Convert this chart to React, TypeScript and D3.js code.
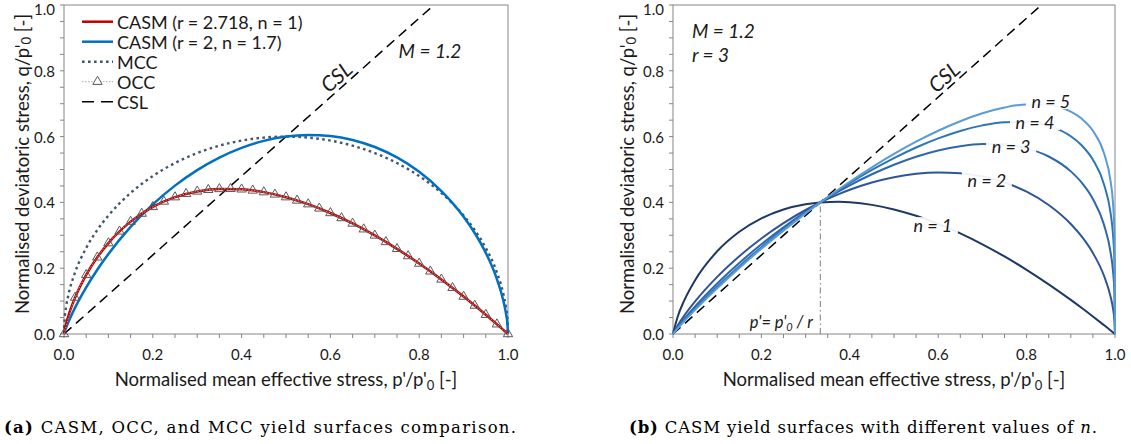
import React from "react";
import * as d3 from "d3";

// ---------------- DATA ----------------
// (a) comparison: normalised mean effective stress grid
const pGridA = [0, 0.001, 0.005, 0.01, 0.025, 0.05, 0.075, 0.1, 0.15, 0.2, 0.25, 0.3, 0.35, 0.4, 0.45, 0.5, 0.55, 0.6, 0.65, 0.7, 0.75, 0.8, 0.85, 0.9, 0.925, 0.95, 0.975, 0.99, 0.995, 0.999, 1];
const casmRedQ = [0, 0.0083, 0.0318, 0.0553, 0.1107, 0.1797, 0.2331, 0.2763, 0.3415, 0.3863, 0.4159, 0.4334, 0.4409, 0.4398, 0.4312, 0.4159, 0.3946, 0.3678, 0.336, 0.2996, 0.2589, 0.2142, 0.1658, 0.1138, 0.0865, 0.0585, 0.0296, 0.0119, 0.006, 0.0012, 0];
const casmBlueQ = [0, 0.0046, 0.0199, 0.0366, 0.0802, 0.1419, 0.1954, 0.2431, 0.3255, 0.3939, 0.451, 0.4982, 0.5362, 0.5656, 0.5869, 0.6, 0.605, 0.6017, 0.5897, 0.5683, 0.5366, 0.4929, 0.4346, 0.3566, 0.307, 0.2465, 0.167, 0.0985, 0.0657, 0.0256, 0];
const mccQ = [0, 0.0379, 0.0846, 0.1194, 0.1873, 0.2615, 0.3161, 0.36, 0.4285, 0.48, 0.5196, 0.5499, 0.5724, 0.5879, 0.597, 0.6, 0.597, 0.5879, 0.5724, 0.5499, 0.5196, 0.48, 0.4285, 0.36, 0.3161, 0.2615, 0.1873, 0.1194, 0.0846, 0.0379, 0];
const occP = [0, 0.025, 0.05, 0.075, 0.1, 0.125, 0.15, 0.175, 0.2, 0.225, 0.25, 0.275, 0.3, 0.325, 0.35, 0.375, 0.4, 0.425, 0.45, 0.475, 0.5, 0.525, 0.55, 0.575, 0.6, 0.625, 0.65, 0.675, 0.7, 0.725, 0.75, 0.775, 0.8, 0.825, 0.85, 0.875, 0.9, 0.925, 0.95, 0.975, 1];
const occQ = [0, 0.1107, 0.1797, 0.2331, 0.2763, 0.3119, 0.3415, 0.366, 0.3863, 0.4028, 0.4159, 0.426, 0.4334, 0.4383, 0.4409, 0.4414, 0.4398, 0.4364, 0.4312, 0.4243, 0.4159, 0.4059, 0.3946, 0.3818, 0.3678, 0.3525, 0.336, 0.3184, 0.2996, 0.2798, 0.2589, 0.237, 0.2142, 0.1904, 0.1658, 0.1402, 0.1138, 0.0865, 0.0585, 0.0296, 0];
const cslP = [0, 0.8333];
const cslQ = [0, 1];

// (b) CASM with r = 3 and different n
const pGridB = [0, 0.01, 0.025, 0.05, 0.1, 0.15, 0.2, 0.25, 0.3, 0.3333, 0.375, 0.4, 0.45, 0.5, 0.55, 0.6, 0.65, 0.7, 0.75, 0.8, 0.85, 0.9, 0.925, 0.95, 0.975, 0.99, 0.995, 0.999, 1];
const n1Q = [0, 0.0503, 0.1007, 0.1636, 0.2515, 0.3108, 0.3516, 0.3786, 0.3945, 0.4, 0.4018, 0.4003, 0.3925, 0.3786, 0.3592, 0.3348, 0.3059, 0.2727, 0.2357, 0.195, 0.1509, 0.1036, 0.0788, 0.0532, 0.027, 0.0109, 0.0054, 0.0011, 0];
const n2Q = [0, 0.0246, 0.055, 0.0991, 0.1737, 0.2365, 0.2905, 0.337, 0.3769, 0.4, 0.4252, 0.4384, 0.4604, 0.4766, 0.4869, 0.491, 0.4884, 0.4786, 0.4605, 0.4327, 0.3923, 0.3345, 0.2957, 0.2463, 0.1772, 0.1136, 0.0807, 0.0362, 0];
const n3Q = [0, 0.0193, 0.0449, 0.0838, 0.1536, 0.2159, 0.2726, 0.3242, 0.3712, 0.4, 0.4333, 0.4518, 0.4855, 0.5146, 0.5388, 0.5578, 0.5709, 0.5773, 0.5758, 0.5643, 0.5395, 0.4943, 0.4596, 0.4105, 0.3324, 0.2484, 0.198, 0.1162, 0];
const n4Q = [0, 0.0172, 0.0406, 0.0771, 0.1444, 0.2063, 0.264, 0.318, 0.3684, 0.4, 0.4374, 0.4587, 0.4986, 0.5347, 0.5669, 0.5946, 0.6172, 0.6341, 0.6438, 0.6445, 0.6326, 0.601, 0.5729, 0.5299, 0.4553, 0.3674, 0.3103, 0.2083, 0];
const n5Q = [0, 0.016, 0.0382, 0.0733, 0.1391, 0.2008, 0.2591, 0.3143, 0.3667, 0.4, 0.4399, 0.4629, 0.5066, 0.5472, 0.5844, 0.6178, 0.6468, 0.6708, 0.6884, 0.6979, 0.696, 0.6758, 0.6539, 0.6177, 0.5499, 0.4646, 0.4063, 0.2955, 0];
const nNames = ["n = 1", "n = 2", "n = 3", "n = 4", "n = 5"];
const pLimit = [0.3333, 0.3333];
const qLimit = [0, 0.4];

const tickValues = [0, 0.2, 0.4, 0.6, 0.8, 1.0];
const tickLabels = ["0.0", "0.2", "0.4", "0.6", "0.8", "1.0"];
const legendLabels = ["CASM (r = 2.718, n = 1)", "CASM (r = 2, n = 1.7)", "MCC", "OCC", "CSL"];

// ---------------- STYLE ----------------
const FONT = "Lato, 'Open Sans', sans-serif";
const SERIF = "'DejaVu Serif', 'Liberation Serif', serif";
const AXIS_COL = "#868686";
const TXT = "#1a1a1a";
const nColors = ["#1f3864", "#2f5597", "#2e67ad", "#2e75b6", "#5b9bd5"];
const nLabelPos = [
  { p: 0.588, q: 0.331 },
  { p: 0.71, q: 0.468 },
  { p: 0.765, q: 0.57 },
  { p: 0.819, q: 0.644 },
  { p: 0.855, q: 0.708 },
];

const Y_BOT = 334;
const Y_TOP = 5;

function zip(a: number[], b: number[]): [number, number][] {
  return a.map((v, i) => [v, b[i]] as [number, number]);
}

function Frame({ x, y, titleX }: { x: d3.ScaleLinear<number, number>; y: d3.ScaleLinear<number, number>; titleX: number }) {
  const [x0, x1] = x.range();
  const minor = x.ticks(20);
  return (
    <g>
      <rect x={x0} y={Y_TOP} width={x1 - x0} height={Y_BOT - Y_TOP} fill="none" stroke={AXIS_COL} strokeWidth={1} />
      {minor.map((t, i) => (
        <line key={"xt" + i} x1={x(t)} x2={x(t)} y1={Y_BOT} y2={Y_BOT + 4} stroke={AXIS_COL} />
      ))}
      {minor.map((t, i) => (
        <line key={"yt" + i} x1={x0 - 4} x2={x0} y1={y(t)} y2={y(t)} stroke={AXIS_COL} />
      ))}
      {tickValues.map((t, i) => (
        <text key={"xl" + i} x={x(t)} y={Y_BOT + 20} fontSize={15} fontFamily={FONT} fill={TXT} textAnchor="middle" dominantBaseline="central">
          {tickLabels[i]}
        </text>
      ))}
      {tickValues.map((t, i) => (
        <text key={"yl" + i} x={x0 - 9} y={Math.max(y(t), 9)} fontSize={15} fontFamily={FONT} fill={TXT} textAnchor="end" dominantBaseline="central">
          {tickLabels[i]}
        </text>
      ))}
      <text x={(x0 + x1) / 2} y={386} fontSize={18.5} fontFamily={FONT} fill={TXT} textAnchor="middle">
        Normalised mean effective stress, p'/p'<tspan fontSize={13} dy={4}>0</tspan>
        <tspan dy={-4}>{"  [-]"}</tspan>
      </text>
      <text transform={`translate(${titleX},164) rotate(-90)`} fontSize={18.5} fontFamily={FONT} fill={TXT} textAnchor="middle" dominantBaseline="central">
        Normalised deviatoric stress, q/p'<tspan fontSize={13} dy={4}>0</tspan>
        <tspan dy={-4}> [-]</tspan>
      </text>
    </g>
  );
}

function CslLabel({ x, y }: { x: d3.ScaleLinear<number, number>; y: d3.ScaleLinear<number, number> }) {
  const dx = x(cslP[1]) - x(cslP[0]);
  const dy = y(cslQ[0]) - y(cslQ[1]);
  const th = Math.atan2(dy, dx);
  const pp = 0.63;
  const px = x(pp);
  const py = y(pp * (cslQ[1] / cslP[1]));
  const off = 12;
  const cx = px - off * Math.sin(th);
  const cy = py - off * Math.cos(th);
  return (
    <text transform={`translate(${cx},${cy}) rotate(${(-th * 180) / Math.PI})`} fontSize={21} fontStyle="italic" fontFamily={FONT} fill={TXT} textAnchor="middle" dominantBaseline="central">
      CSL
    </text>
  );
}

export default function App() {
  const y = d3.scaleLinear().domain([0, 1]).range([Y_BOT, Y_TOP]);
  const xA = d3.scaleLinear().domain([0, 1]).range([64, 508]);
  const xB = d3.scaleLinear().domain([0, 1]).range([673, 1115]);

  const lineA = d3.line<[number, number]>().x((d) => xA(d[0])).y((d) => y(d[1])).curve(d3.curveMonotoneX);
  const lineAlin = d3.line<[number, number]>().x((d) => xA(d[0])).y((d) => y(d[1]));
  const lineB = d3.line<[number, number]>().x((d) => xB(d[0])).y((d) => y(d[1])).curve(d3.curveMonotoneX);
  const lineBlin = d3.line<[number, number]>().x((d) => xB(d[0])).y((d) => y(d[1]));

  const tri = d3.symbol(d3.symbolTriangle, 38)() as string;
  const nSeries = [n1Q, n2Q, n3Q, n4Q, n5Q];

  const legY = [21.7, 41.7, 61.7, 81.7, 101.7];
  const lx0 = 82, lx1 = 113, ltx = 117;

  return (
    <svg width={1131} height={444} style={{ position: "absolute", left: 0, top: 0, background: "#fff" }}>
      <rect width={1131} height={444} fill="#fff" />
      {/* ---------- (a) ---------- */}
      <Frame x={xA} y={y} titleX={22} />
      <path d={lineAlin(zip(cslP, cslQ)) as string} fill="none" stroke="#000" strokeWidth={1.5} strokeDasharray="10 6" />
      <path d={lineA(zip(pGridA, mccQ)) as string} fill="none" stroke="#44546a" strokeWidth={2.4} strokeDasharray="2.6 3.4" />
      <path d={lineA(zip(pGridA, casmBlueQ)) as string} fill="none" stroke="#0070c0" strokeWidth={2.5} />
      <path d={lineA(zip(pGridA, casmRedQ)) as string} fill="none" stroke="#c00000" strokeWidth={2.5} />
      <path d={lineA(zip(occP, occQ)) as string} fill="none" stroke="#a6a6a6" strokeWidth={1} strokeDasharray="1.5 1.5" />
      {occP.map((p, i) => (
        <path key={"tr" + i} d={tri} transform={`translate(${xA(p)},${y(occQ[i])})`} fill="none" stroke="#595959" strokeWidth={1} />
      ))}
      <CslLabel x={xA} y={y} />
      <text x={430} y={50} fontSize={19} fontStyle="italic" fontFamily={FONT} fill={TXT} textAnchor="middle" dominantBaseline="central">
        M = 1.2
      </text>
      {/* legend */}
      <rect x={76} y={10} width={200} height={102} fill="#fff" />
      <line x1={lx0} x2={lx1} y1={legY[0]} y2={legY[0]} stroke="#c00000" strokeWidth={2.5} />
      <line x1={lx0} x2={lx1} y1={legY[1]} y2={legY[1]} stroke="#0070c0" strokeWidth={2.5} />
      <line x1={lx0} x2={lx1} y1={legY[2]} y2={legY[2]} stroke="#44546a" strokeWidth={2.4} strokeDasharray="2.6 3.4" />
      <line x1={lx0} x2={lx1} y1={legY[3]} y2={legY[3]} stroke="#a6a6a6" strokeWidth={1} strokeDasharray="1.5 1.5" />
      <path d={tri} transform={`translate(${(lx0 + lx1) / 2},${legY[3]})`} fill="#fff" stroke="#595959" strokeWidth={1} />
      <line x1={lx0} x2={lx1} y1={legY[4]} y2={legY[4]} stroke="#000" strokeWidth={1.5} strokeDasharray="12 7" />
      {legendLabels.map((l, i) => (
        <text key={"lg" + i} x={ltx} y={legY[i]} fontSize={18} fontFamily={FONT} fill={TXT} dominantBaseline="central">
          {l}
        </text>
      ))}

      {/* ---------- (b) ---------- */}
      <Frame x={xB} y={y} titleX={627} />
      <path d={lineBlin(zip(pLimit, qLimit)) as string} fill="none" stroke="#7f7f7f" strokeWidth={1} strokeDasharray="6 3 1.5 3" />
      <path d={lineBlin(zip(cslP, cslQ)) as string} fill="none" stroke="#000" strokeWidth={1.5} strokeDasharray="10 6" />
      {nSeries.map((s, i) => (
        <path key={"n" + i} d={lineB(zip(pGridB, s)) as string} fill="none" stroke={nColors[i]} strokeWidth={2} />
      ))}
      {nLabelPos.map((lp, i) => (
        <g key={"nl" + i}>
          <rect x={xB(lp.p) - 25} y={y(lp.q) - 8} width={50} height={16} fill="#fff" opacity={0.92} />
          <text x={xB(lp.p)} y={y(lp.q)} fontSize={18} fontStyle="italic" fontFamily={FONT} fill={TXT} textAnchor="middle" dominantBaseline="central">
            {nNames[i]}
          </text>
        </g>
      ))}
      <CslLabel x={xB} y={y} />
      <text x={692} y={30} fontSize={19} fontStyle="italic" fontFamily={FONT} fill={TXT} dominantBaseline="central">
        M = 1.2
      </text>
      <text x={692} y={54} fontSize={19} fontStyle="italic" fontFamily={FONT} fill={TXT} dominantBaseline="central">
        r = 3
      </text>
      <text x={813} y={322} fontSize={16.5} fontStyle="italic" fontFamily={FONT} fill={TXT} textAnchor="end" dominantBaseline="central">
        p'= p'<tspan fontSize={11} dy={4}>0</tspan>
        <tspan dy={-4}> / r</tspan>
      </text>

      {/* ---------- captions ---------- */}
      <text x={4} y={433} fontSize={16.5} fontFamily={SERIF} fill="#000" textLength={512} lengthAdjust="spacing">
        <tspan fontWeight="bold">(a)</tspan> CASM, OCC, and MCC yield surfaces comparison.
      </text>
      <text x={629} y={433} fontSize={16.5} fontFamily={SERIF} fill="#000" textLength={468} lengthAdjust="spacing">
        <tspan fontWeight="bold">(b)</tspan> CASM yield surfaces with different values of <tspan fontStyle="italic">n</tspan>.
      </text>
    </svg>
  );
}
